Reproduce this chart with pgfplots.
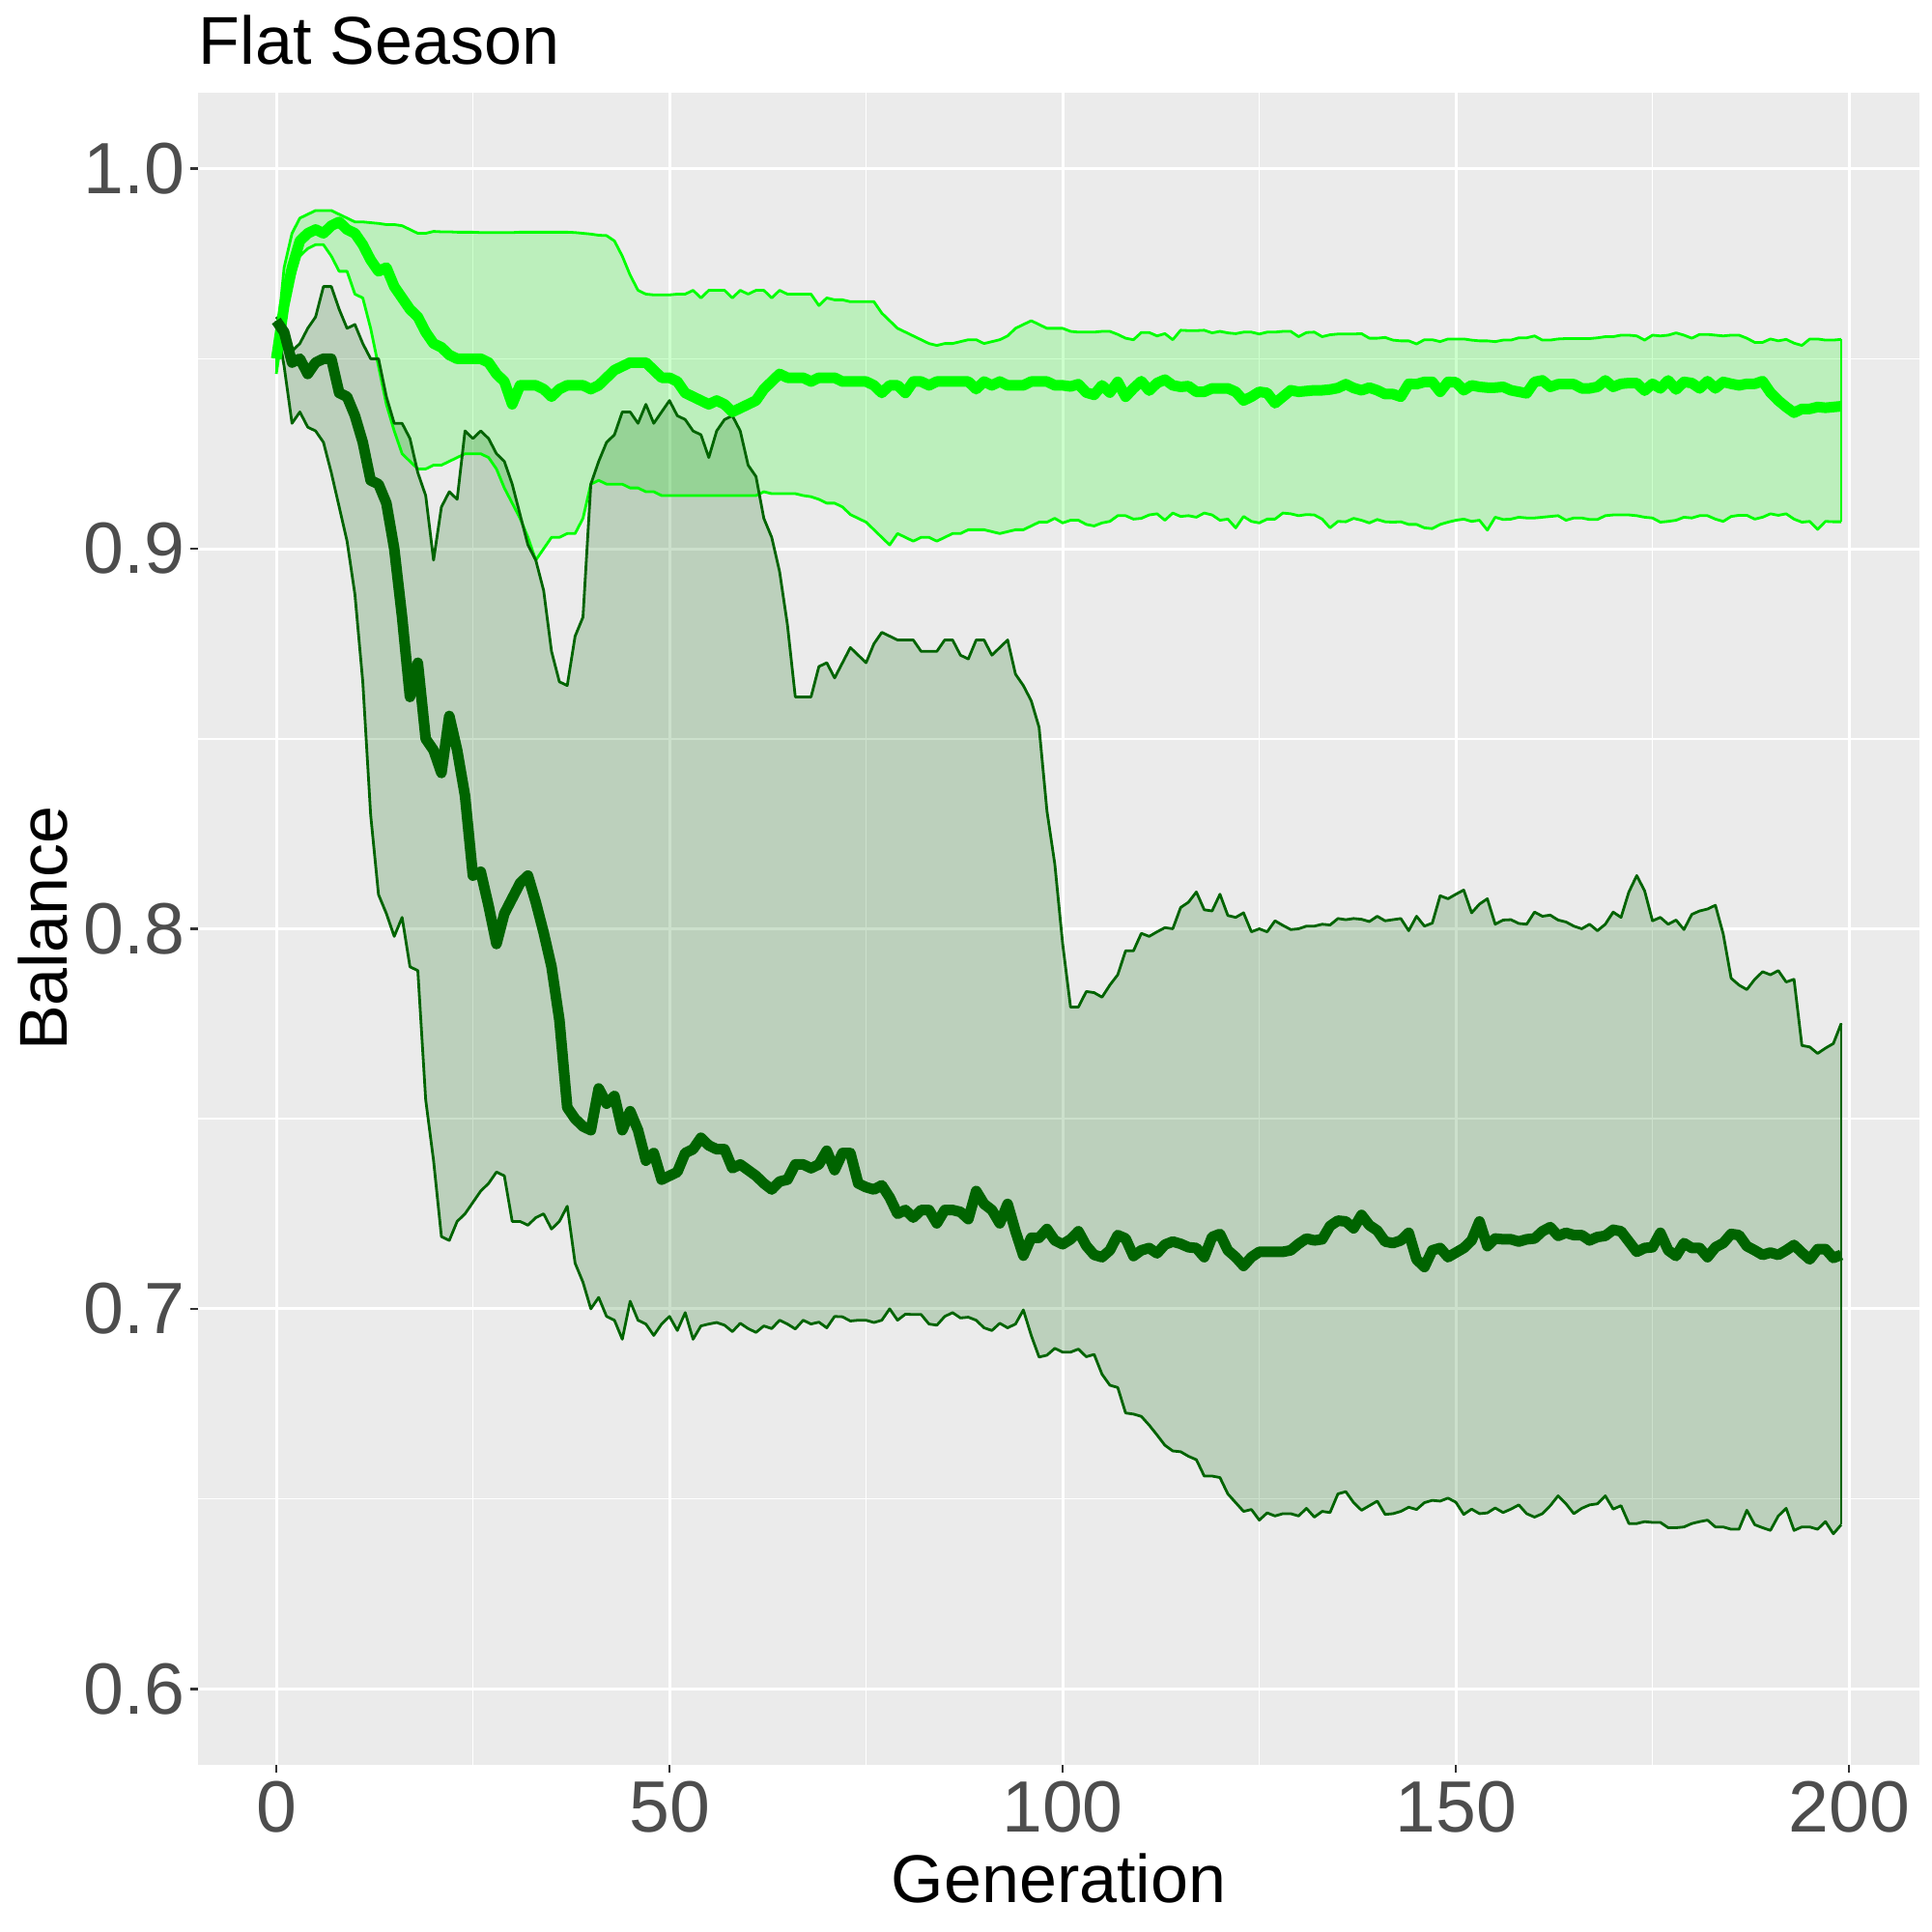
\documentclass[border=0pt]{standalone}
\usepackage{fontspec}
\setmainfont{Liberation Sans}
\usepackage{pgfplots}
\usepackage{pgfplotstable}
\pgfplotsset{compat=1.18}
\usepgfplotslibrary{fillbetween}
\definecolor{bggray}{HTML}{EBEBEB}
\definecolor{lgreen}{HTML}{00FF00}
\definecolor{dgreen}{HTML}{006400}
\definecolor{ticklab}{HTML}{4D4D4D}
\definecolor{tickcol}{HTML}{333333}
\pgfplotstableread{
g LU LM LL DU DM DL
0 0.953 0.950 0.946 0.961 0.960 0.960
1 0.974 0.964 0.960 0.958 0.957 0.948
2 0.983 0.974 0.970 0.952 0.949 0.933
3 0.987 0.981 0.977 0.954 0.950 0.936
4 0.988 0.983 0.979 0.958 0.946 0.932
5 0.989 0.984 0.980 0.961 0.949 0.931
6 0.989 0.983 0.980 0.969 0.950 0.928
7 0.989 0.985 0.977 0.969 0.950 0.920
8 0.988 0.986 0.973 0.963 0.941 0.911
9 0.987 0.984 0.973 0.958 0.940 0.902
10 0.986 0.983 0.967 0.959 0.935 0.888
11 0.986 0.980 0.966 0.954 0.928 0.865
12 0.9858 0.976 0.958 0.950 0.918 0.830
13 0.9856 0.973 0.948 0.950 0.917 0.809
14 0.9853 0.974 0.938 0.940 0.912 0.804
15 0.9853 0.969 0.931 0.933 0.900 0.798
16 0.985 0.966 0.925 0.933 0.882 0.803
17 0.984 0.963 0.923 0.929 0.861 0.790
18 0.983 0.961 0.921 0.920 0.870 0.789
19 0.983 0.957 0.921 0.914 0.850 0.755
20 0.9835 0.954 0.922 0.897 0.847 0.739
21 0.9834 0.953 0.922 0.911 0.841 0.719
22 0.9834 0.951 0.923 0.915 0.856 0.718
23 0.9833 0.950 0.924 0.913 0.847 0.723
24 0.9833 0.950 0.925 0.931 0.835 0.725
25 0.9833 0.950 0.925 0.929 0.814 0.728
26 0.9832 0.950 0.925 0.931 0.815 0.731
27 0.9832 0.949 0.924 0.929 0.806 0.733
28 0.9832 0.946 0.921 0.925 0.796 0.736
29 0.9832 0.944 0.916 0.923 0.804 0.735
30 0.9832 0.938 0.912 0.917 0.808 0.723
31 0.9833 0.943 0.908 0.909 0.812 0.723
32 0.9833 0.943 0.903 0.901 0.814 0.722
33 0.9833 0.943 0.897 0.897 0.807 0.724
34 0.9833 0.942 0.900 0.889 0.799 0.725
35 0.9833 0.940 0.903 0.873 0.790 0.721
36 0.9833 0.942 0.903 0.865 0.776 0.723
37 0.9833 0.943 0.904 0.864 0.753 0.727
38 0.9832 0.943 0.904 0.877 0.750 0.712
39 0.9830 0.943 0.908 0.882 0.748 0.707
40 0.9828 0.942 0.917 0.917 0.747 0.700
41 0.9825 0.943 0.918 0.923 0.758 0.703
42 0.9824 0.945 0.917 0.928 0.754 0.698
43 0.981 0.947 0.917 0.930 0.756 0.697
44 0.977 0.948 0.917 0.936 0.747 0.692
45 0.972 0.949 0.916 0.936 0.752 0.702
46 0.968 0.949 0.916 0.933 0.747 0.697
47 0.967 0.949 0.915 0.938 0.739 0.696
48 0.9668 0.947 0.915 0.933 0.741 0.693
49 0.9668 0.945 0.914 0.936 0.734 0.696
50 0.9668 0.945 0.914 0.939 0.735 0.698
51 0.967 0.944 0.914 0.935 0.736 0.6943
52 0.967 0.941 0.914 0.934 0.741 0.699
53 0.968 0.940 0.914 0.931 0.742 0.692
54 0.966 0.939 0.914 0.930 0.745 0.6955
55 0.968 0.938 0.914 0.924 0.743 0.696
56 0.968 0.939 0.914 0.931 0.742 0.6964
57 0.968 0.938 0.914 0.934 0.742 0.6957
58 0.966 0.936 0.914 0.935 0.737 0.694
59 0.968 0.937 0.914 0.931 0.738 0.6962
60 0.967 0.938 0.914 0.922 0.7365 0.6948
61 0.968 0.939 0.914 0.919 0.735 0.6938
62 0.968 0.942 0.915 0.908 0.733 0.6955
63 0.966 0.944 0.9145 0.903 0.7314 0.6948
64 0.968 0.946 0.9145 0.894 0.7335 0.697
65 0.967 0.945 0.9145 0.880 0.734 0.696
66 0.967 0.945 0.9145 0.861 0.738 0.6947
67 0.967 0.945 0.914 0.861 0.738 0.697
68 0.967 0.944 0.9137 0.861 0.737 0.696
69 0.964 0.945 0.913 0.869 0.738 0.6965
70 0.966 0.945 0.912 0.870 0.7416 0.695
71 0.9655 0.945 0.912 0.866 0.7365 0.698
72 0.9655 0.944 0.911 0.870 0.741 0.6979
73 0.965 0.944 0.909 0.874 0.741 0.6968
74 0.965 0.944 0.908 0.872 0.733 0.697
75 0.965 0.944 0.907 0.870 0.732 0.697
76 0.965 0.943 0.905 0.875 0.7314 0.6964
77 0.962 0.941 0.903 0.878 0.7325 0.697
78 0.960 0.943 0.901 0.877 0.7293 0.700
79 0.958 0.943 0.904 0.876 0.725 0.697
80 0.957 0.941 0.903 0.876 0.726 0.6986
81 0.956 0.944 0.902 0.876 0.724 0.6985
82 0.955 0.944 0.903 0.873 0.726 0.6985
83 0.954 0.943 0.903 0.873 0.726 0.696
84 0.9535 0.944 0.902 0.873 0.7225 0.6957
85 0.954 0.944 0.903 0.876 0.726 0.698
86 0.954 0.944 0.904 0.876 0.726 0.699
87 0.9545 0.944 0.904 0.872 0.7255 0.6976
88 0.955 0.944 0.905 0.871 0.7236 0.6978
89 0.955 0.942 0.905 0.876 0.731 0.697
90 0.954 0.944 0.905 0.876 0.7276 0.695
91 0.9545 0.943 0.9045 0.872 0.726 0.6943
92 0.955 0.944 0.904 0.874 0.7225 0.6962
93 0.956 0.943 0.9045 0.876 0.7276 0.695
94 0.958 0.943 0.905 0.867 0.7204 0.696
95 0.959 0.943 0.905 0.864 0.714 0.6997
96 0.960 0.944 0.906 0.860 0.7187 0.693
97 0.959 0.944 0.907 0.853 0.7187 0.6873
98 0.958 0.944 0.907 0.831 0.721 0.6878
99 0.958 0.943 0.908 0.817 0.718 0.6896
100 0.958 0.943 0.9068 0.796 0.717 0.6886
101 0.9572 0.9427 0.9075 0.7794 0.7183 0.6886
102 0.957 0.9433 0.9075 0.7794 0.7204 0.6894
103 0.957 0.9411 0.9064 0.7835 0.7166 0.6874
104 0.957 0.9405 0.906 0.7832 0.7142 0.688
105 0.9572 0.943 0.9068 0.782 0.7136 0.6828
106 0.9572 0.9411 0.9072 0.7852 0.7154 0.6799
107 0.9564 0.9439 0.9087 0.7879 0.7194 0.6793
108 0.9554 0.940 0.9087 0.7942 0.7185 0.6726
109 0.955 0.9422 0.9078 0.7942 0.7139 0.6723
110 0.9569 0.9441 0.908 0.7988 0.7154 0.6717
111 0.9569 0.9416 0.9089 0.798 0.716 0.6694
112 0.956 0.9436 0.9092 0.7992 0.7146 0.6668
113 0.9566 0.9445 0.9075 0.8003 0.7169 0.6641
114 0.955 0.943 0.9094 0.800 0.7177 0.6626
115 0.9575 0.9426 0.9085 0.8056 0.7171 0.6624
116 0.9574 0.9428 0.9087 0.807 0.7162 0.6612
117 0.9574 0.9413 0.9083 0.8097 0.716 0.6603
118 0.9575 0.9413 0.9094 0.805 0.7136 0.656
119 0.9568 0.9422 0.9089 0.8047 0.7189 0.656
120 0.9572 0.9422 0.9075 0.8091 0.7197 0.6556
121 0.9568 0.9422 0.9078 0.8035 0.7154 0.6513
122 0.9566 0.9413 0.9055 0.803 0.7136 0.649
123 0.957 0.939 0.9085 0.8042 0.7113 0.6467
124 0.957 0.940 0.9072 0.7992 0.7136 0.6472
125 0.9565 0.9413 0.9068 0.800 0.715 0.6444
126 0.957 0.941 0.9078 0.7992 0.715 0.6463
127 0.957 0.9383 0.9078 0.8021 0.715 0.6455
128 0.9572 0.940 0.9094 0.8009 0.715 0.6461
129 0.9572 0.9417 0.9092 0.7998 0.7154 0.6461
130 0.9558 0.9413 0.9087 0.800 0.7171 0.6455
131 0.9569 0.9415 0.909 0.8007 0.7185 0.6475
132 0.957 0.9417 0.9089 0.8007 0.718 0.6452
133 0.9558 0.9417 0.9078 0.8012 0.7183 0.6467
134 0.9563 0.9419 0.9055 0.801 0.7218 0.6464
135 0.9565 0.9423 0.9072 0.8027 0.7232 0.6513
136 0.9565 0.9433 0.9071 0.8024 0.723 0.6519
137 0.9565 0.9423 0.908 0.8027 0.7212 0.649
138 0.9566 0.9417 0.9075 0.8025 0.7247 0.647
139 0.9554 0.9424 0.9068 0.8019 0.722 0.6482
140 0.9554 0.9417 0.9077 0.8033 0.7206 0.6494
141 0.9556 0.9407 0.9071 0.8021 0.7177 0.6459
142 0.9549 0.9407 0.907 0.8024 0.7173 0.6461
143 0.9547 0.940 0.9071 0.8027 0.718 0.6467
144 0.9547 0.9434 0.9064 0.7995 0.720 0.6478
145 0.9539 0.9433 0.9064 0.8033 0.713 0.6472
146 0.955 0.9439 0.9055 0.8007 0.711 0.649
147 0.955 0.9439 0.9053 0.8015 0.7154 0.6496
148 0.9545 0.9413 0.9064 0.8087 0.716 0.6494
149 0.9552 0.9439 0.907 0.8079 0.7136 0.6502
150 0.9552 0.9438 0.9075 0.8091 0.7148 0.6491
151 0.9552 0.9417 0.9078 0.8102 0.716 0.6459
152 0.9549 0.943 0.9072 0.8042 0.718 0.6473
153 0.9547 0.9426 0.9075 0.8065 0.723 0.6461
154 0.9547 0.9424 0.9049 0.8079 0.7165 0.6463
155 0.9545 0.9424 0.9083 0.8012 0.7185 0.6476
156 0.9549 0.9426 0.9077 0.8023 0.7183 0.6464
157 0.9549 0.9417 0.9078 0.8024 0.7183 0.6473
158 0.9555 0.9413 0.9083 0.8014 0.7177 0.6484
159 0.9555 0.9409 0.9081 0.8012 0.7183 0.6461
160 0.956 0.9439 0.9081 0.8044 0.7185 0.6452
161 0.9549 0.9443 0.9083 0.8033 0.7204 0.6461
162 0.9549 0.9426 0.9085 0.8036 0.7215 0.6482
163 0.9552 0.9433 0.9087 0.8023 0.7192 0.6508
164 0.9553 0.9433 0.9075 0.8018 0.720 0.6487
165 0.9553 0.9433 0.9081 0.8007 0.7194 0.6461
166 0.9553 0.9422 0.9081 0.800 0.7194 0.6475
167 0.9553 0.9422 0.9077 0.8012 0.718 0.6484
168 0.9555 0.9426 0.9077 0.7995 0.7189 0.6487
169 0.9558 0.9443 0.9087 0.8012 0.7192 0.6508
170 0.9558 0.9426 0.9089 0.8044 0.7208 0.6473
171 0.9562 0.9434 0.9089 0.803 0.7204 0.6482
172 0.9562 0.9436 0.9089 0.8097 0.7177 0.6435
173 0.956 0.9436 0.9087 0.814 0.715 0.6435
174 0.9549 0.9416 0.9083 0.810 0.716 0.644
175 0.9562 0.9434 0.9081 0.8021 0.7162 0.6438
176 0.956 0.9422 0.907 0.803 0.720 0.6438
177 0.9562 0.9443 0.9072 0.8012 0.7154 0.6424
178 0.9568 0.9419 0.9075 0.8023 0.7139 0.6424
179 0.9562 0.9439 0.9083 0.7998 0.7173 0.6426
180 0.9554 0.9436 0.9081 0.8038 0.716 0.6435
181 0.9564 0.9422 0.9087 0.8047 0.716 0.644
182 0.9564 0.9441 0.9087 0.8052 0.7136 0.6444
183 0.9562 0.9422 0.9078 0.8062 0.7162 0.6426
184 0.956 0.9439 0.9072 0.7986 0.7173 0.6426
185 0.9562 0.9434 0.9085 0.787 0.7197 0.642
186 0.9562 0.943 0.9088 0.7852 0.7194 0.642
187 0.9554 0.9434 0.9088 0.784 0.7165 0.647
188 0.9543 0.9434 0.9078 0.7867 0.7154 0.6432
189 0.9543 0.9441 0.9083 0.7887 0.7142 0.6424
190 0.9552 0.9411 0.9092 0.7879 0.7148 0.6417
191 0.9547 0.939 0.9088 0.789 0.7142 0.6455
192 0.9551 0.9373 0.9092 0.786 0.7154 0.6475
193 0.9541 0.9358 0.9078 0.7867 0.7168 0.6417
194 0.9535 0.9368 0.907 0.7693 0.7148 0.6426
195 0.9552 0.9368 0.9072 0.7689 0.713 0.6426
196 0.9552 0.9373 0.9051 0.7672 0.7157 0.642
197 0.9549 0.9371 0.9072 0.7686 0.7157 0.644
198 0.9549 0.9373 0.9071 0.7698 0.7134 0.6408
199 0.9551 0.9375 0.9071 0.7751 0.7142 0.6432
}\data
\begin{document}
\begin{tikzpicture}
\path (0,0) rectangle (500pt,500pt);
\begin{axis}[
  at={(51.25pt,43.25pt)}, anchor=south west,
  width=445.5pt, height=432.75pt, scale only axis,
  xmin=-9.95, xmax=208.95, ymin=0.58, ymax=1.02,
  axis background/.style={fill=bggray},
  axis line style={draw=none},
  xtick={0,50,100,150,200}, ytick={0.6,0.7,0.8,0.9,1.0},
  minor xtick={25,75,125,175}, minor ytick={0.65,0.75,0.85,0.95},
  grid=both,
  major grid style={white, line width=0.75pt},
  minor grid style={white, line width=0.38pt},
  tick align=outside, tick pos=left,
  major tick length=1.95pt, minor tick length=0pt,
  every tick/.style={tickcol, line width=0.6pt},
  /pgf/number format/assume math mode=true,
  yticklabel={\pgfmathprintnumber[fixed,fixed zerofill,precision=1]{\tick}},
  every tick label/.append style={font=\fontsize{18.8}{22}\selectfont, text=ticklab},
  xticklabel style={inner sep=0pt, anchor=north, yshift=-2pt},
  yticklabel style={inner sep=0pt, anchor=east, xshift=-1.25pt},
  xlabel={Generation}, ylabel={Balance},
  label style={font=\fontsize{17.5}{21}\selectfont, text=black, inner sep=0pt},
  xlabel style={at={(axis description cs:0.5,-0.0826)}, anchor=base},
  ylabel style={at={(axis description cs:-0.0758,0.5)}, anchor=base, rotate=0},
  line join=round,
]
\addplot[draw=none, name path=lu, forget plot] table[x=g,y=LU]{\data};
\addplot[draw=none, name path=ll, forget plot] table[x=g,y=LL]{\data};
\addplot[draw=none, name path=du, forget plot] table[x=g,y=DU]{\data};
\addplot[draw=none, name path=dl, forget plot] table[x=g,y=DL]{\data};
\addplot[fill=lgreen, fill opacity=0.2, draw=none] fill between[of=lu and ll];
\addplot[fill=dgreen, fill opacity=0.2, draw=none] fill between[of=du and dl];
\addplot[lgreen, line width=0.7pt] table[x=g,y=LU]{\data};
\addplot[lgreen, line width=0.7pt] table[x=g,y=LL]{\data};
\addplot[lgreen, line width=0.7pt] coordinates {(0,0.946) (0,0.953)};
\addplot[lgreen, line width=0.7pt] coordinates {(199,0.9071) (199,0.9551)};
\addplot[dgreen, line width=0.7pt] table[x=g,y=DU]{\data};
\addplot[dgreen, line width=0.7pt] table[x=g,y=DL]{\data};
\addplot[dgreen, line width=0.7pt] coordinates {(199,0.6432) (199,0.7751)};
\addplot[lgreen, line width=2.75pt] table[x=g,y=LM]{\data};
\addplot[dgreen, line width=2.75pt] table[x=g,y=DM]{\data};
\end{axis}
\node[anchor=base west, inner sep=0pt, font=\fontsize{17.5}{21}\selectfont] at (51.25pt,483.25pt) {Flat Season};
\end{tikzpicture}
\end{document}
